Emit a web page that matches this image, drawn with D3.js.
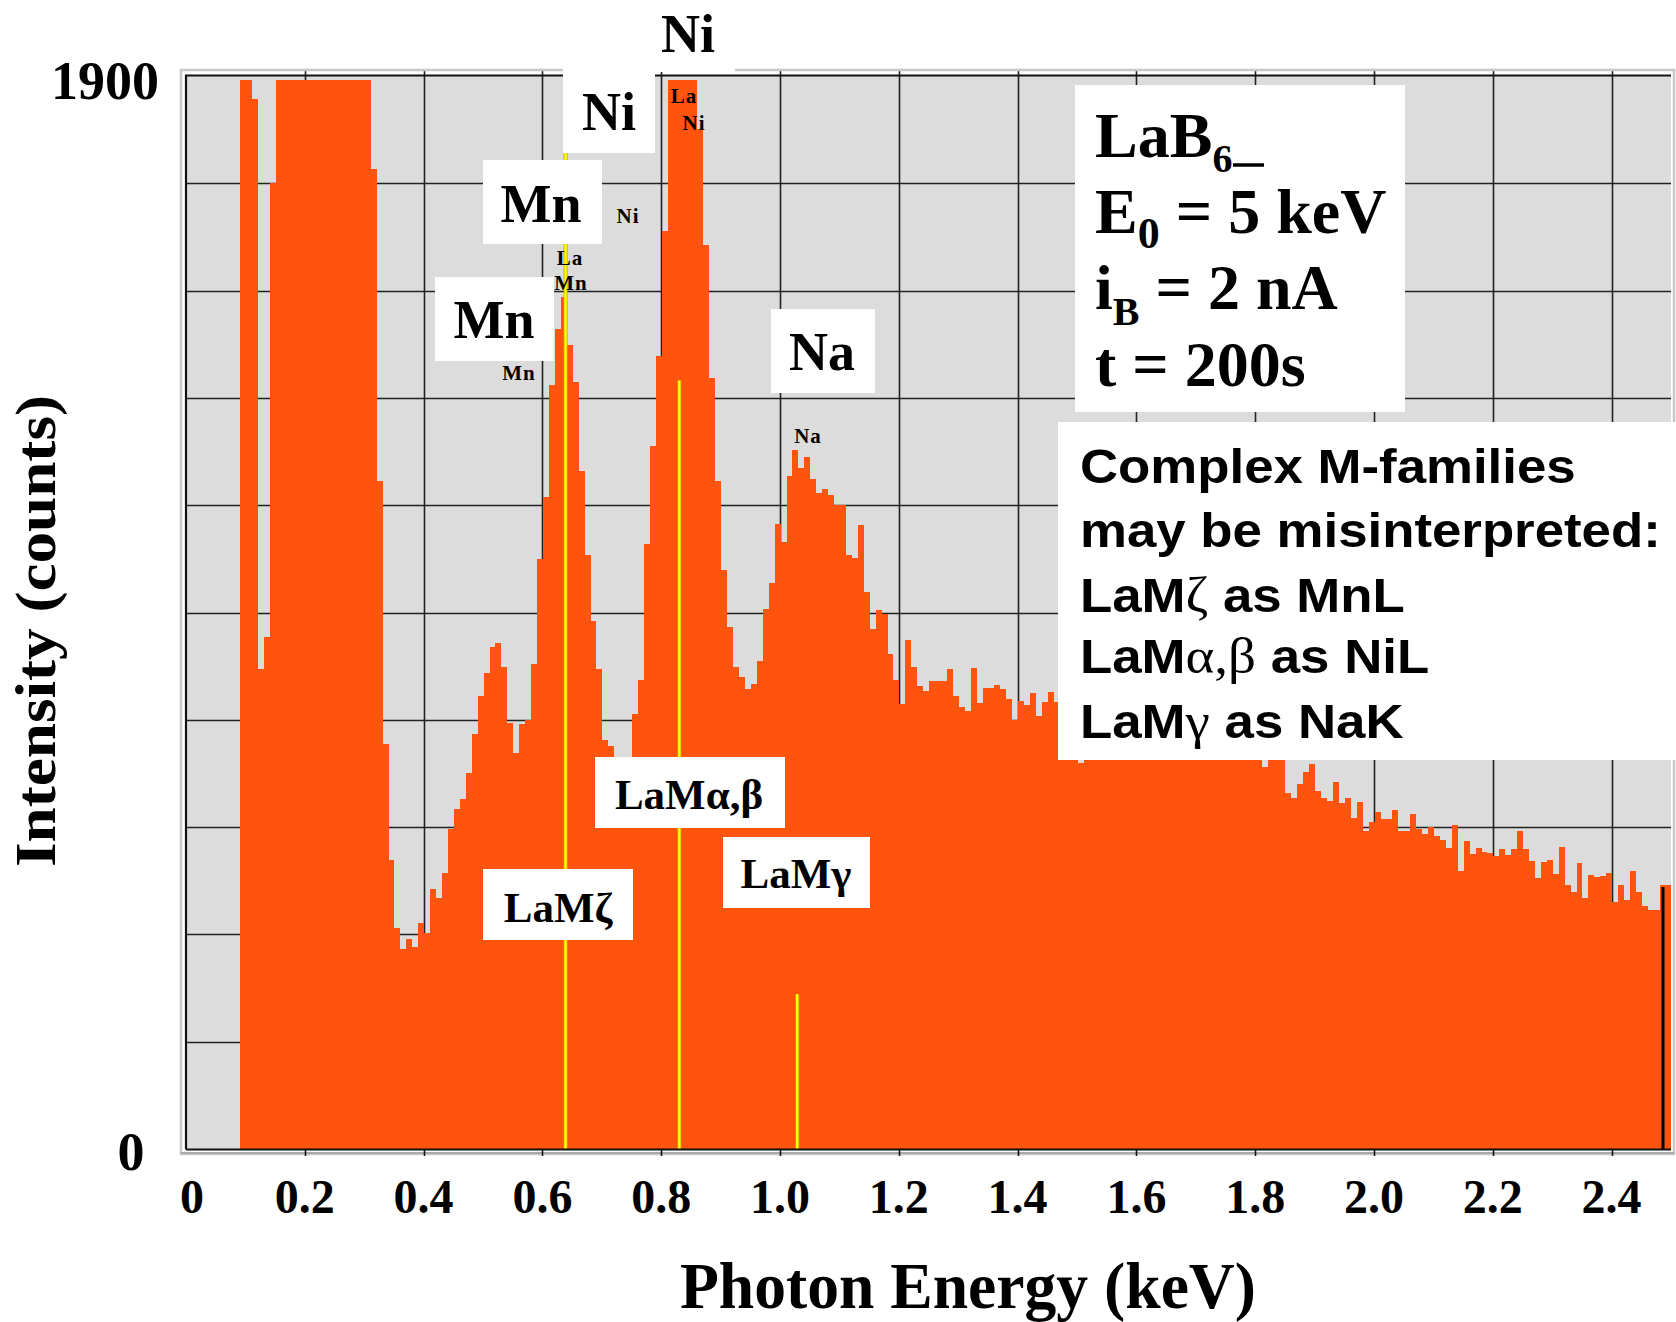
<!DOCTYPE html>
<html>
<head>
  <meta charset="utf-8" />
  <title>LaB6 spectrum</title>
  <script type="text/javascript" src="https://cdn.jsdelivr.net/npm/d3@7"></script>
  <style>
    body{
      margin: 0;
      background: white;
    }
  </style>
</head>
<body>
  <script type="text/javascript">
    // - - - - - CONSTANTS - - - - - //
    var w = 1676;
    var h = 1322;
    var serif = "'Liberation Serif', 'Times New Roman', serif";
    var sans = "'Liberation Sans', Arial, sans-serif";

    // - - - - - DATA - - - - - //
    // histogram: 10 eV channels, first channel lower edge in keV
    var binStart = 0.091;
    var binWidth = 0.01;
    // counts per channel (1893 = clipped at top of display)
    var counts = [
      1893, 1893, 1860, 850, 907, 1710,
      1893, 1893, 1893, 1893, 1893, 1893, 1893, 1893, 1893, 1893, 1893, 1893, 1893, 1893, 1893, 1893,
      1736, 1182, 718, 512, 392, 354, 371, 358, 401,
      382, 461, 444, 489, 566, 602, 619, 665, 734, 803,
      843, 889, 896, 853, 755, 702, 753, 759, 859, 1045,
      1154, 1352, 1452, 1509, 1424, 1358, 1201, 1051, 935, 850,
      724, 713, 670, 655, 675, 771, 830, 1071, 1244, 1404,
      1625, 1893, 1893, 1893, 1893, 1893, 1806, 1600, 1365, 1183,
      1026, 924, 853, 836, 814, 823, 865, 957, 1002, 1107,
      1074, 1191, 1237, 1206, 1225, 1186, 1162, 1169, 1158, 1141,
      1141, 1051, 1046, 1105, 987, 921, 955, 947, 876, 830,
      788, 901, 853, 820, 811, 828, 828, 828, 850, 803,
      782, 776, 852, 789, 816, 816, 822, 814, 797, 759,
      794, 786, 807, 767, 791, 809, 791, 785, 770, 798,
      683, 765, 788, 752, 771, 744, 762, 776, 741, 757,
      732, 766, 745, 722, 751, 736, 716, 745, 727, 706,
      734, 716, 701, 726, 711, 696, 719, 702, 707, 692,
      700, 677, 700, 705, 695, 631, 621, 646, 668, 682,
      634, 621, 617, 649, 613, 622, 586, 614, 563, 579,
      597, 585, 584, 600, 563, 563, 594, 567, 558, 570,
      555, 548, 533, 573, 492, 545, 523, 533, 526, 525,
      519, 531, 521, 531, 563, 531, 510, 479, 509, 512,
      487, 534, 468, 455, 506, 445, 485, 482, 484, 489,
      437, 468, 441, 492, 455, 431, 424, 424, 468, 468
    ];
    // La M line markers (keV) and marker heights (counts)
    var markerNames = ["LaMζ", "LaMα,β", "LaMγ"];
    var markerEnergy = [0.639, 0.8305, 1.029];
    var markerHeight = [1900, 1361, 274];
    // cursor line
    var cursorEnergy = 2.4865;
    var cursorHeight = 464;
    // axes
    var xTicks = [0, 0.2, 0.4, 0.6, 0.8, 1.0, 1.2, 1.4, 1.6, 1.8, 2.0, 2.2, 2.4];
    var xTickLabels = ["0", "0.2", "0.4", "0.6", "0.8", "1.0", "1.2", "1.4", "1.6", "1.8", "2.0", "2.2", "2.4"];
    var yGrid = [190, 380, 570, 760, 950, 1140, 1330, 1520, 1710];

    // - - - - - CANVAS - - - - - //
    var svg = d3.select("body")
      .append("svg")
      .attr("width", w)
      .attr("height", h);

    // - - - - - SCALES - - - - - //
    var x = d3.scaleLinear().domain([0, 2.5]).range([186, 1671]);
    var y = d3.scaleLinear().domain([0, 1900]).range([1149, 76]);

    // - - - - - PLOT FRAME / GRID - - - - - //
    svg.append("rect")
      .attr("x", x(0)).attr("y", y(1900) - 1)
      .attr("width", x(2.5) - x(0)).attr("height", y(0) - y(1900) + 1)
      .attr("fill", "#dcdcdc");

    var grid = svg.append("g").attr("stroke", "#222").attr("stroke-width", 1.6);
    grid.selectAll("line.h")
      .data(yGrid).enter().append("line")
      .attr("x1", x(0)).attr("x2", x(2.5))
      .attr("y1", function(d){ return Math.round(y(d)) + 0.5; })
      .attr("y2", function(d){ return Math.round(y(d)) + 0.5; });
    grid.selectAll("line.v")
      .data(xTicks.slice(1)).enter().append("line")
      .attr("y1", y(1900) - 5).attr("y2", y(0))
      .attr("x1", function(d){ return Math.round(x(d)) + 0.5; })
      .attr("x2", function(d){ return Math.round(x(d)) + 0.5; });

    // - - - - - SPECTRUM BARS - - - - - //
    svg.append("g")
      .attr("shape-rendering", "crispEdges")
      .selectAll("rect")
      .data(counts).enter().append("rect")
      .attr("x", function(d, i){ return Math.round(x(binStart + i * binWidth)); })
      .attr("width", function(d, i){
        var e1 = Math.min(2.5, binStart + (i + 1) * binWidth);
        return Math.round(x(e1)) - Math.round(x(binStart + i * binWidth));
      })
      .attr("y", function(d){ return Math.round(y(d)); })
      .attr("height", function(d){ return y(0) - Math.round(y(d)); })
      .attr("fill", "#ff540d");

    // - - - - - MARKER LINES - - - - - //
    var mk = svg.append("g");
    markerEnergy.forEach(function(e, i){
      mk.append("line")
        .attr("x1", x(e)).attr("x2", x(e))
        .attr("y1", y(markerHeight[i])).attr("y2", y(0))
        .attr("stroke", "#c9a400").attr("stroke-width", 4);
      mk.append("line")
        .attr("x1", x(e)).attr("x2", x(e))
        .attr("y1", y(markerHeight[i])).attr("y2", y(0))
        .attr("stroke", "#ffff00").attr("stroke-width", 2.4);
    });
    mk.append("line")
      .attr("x1", x(cursorEnergy)).attr("x2", x(cursorEnergy))
      .attr("y1", y(cursorHeight)).attr("y2", y(0))
      .attr("stroke", "#000").attr("stroke-width", 3);

    // - - - - - FRAME - - - - - //
    var fr = svg.append("g").attr("fill", "none");
    fr.append("path")
      .attr("d", "M181,1154 V70 H1674 V1154 Z")
      .attr("stroke", "#c8c8c8").attr("stroke-width", 2.5);
    fr.append("path")
      .attr("d", "M186,1149.5 V75.5 H1671 M186,1149.5 H1671")
      .attr("stroke", "#111").attr("stroke-width", 2.2);
    fr.append("line")
      .attr("x1", 181).attr("x2", 1674).attr("y1", 1153).attr("y2", 1153)
      .attr("stroke", "#aaa").attr("stroke-width", 2);
    fr.selectAll("line.tick")
      .data(xTicks.slice(1)).enter().append("line")
      .attr("x1", function(d){ return Math.round(x(d)) + 0.5; })
      .attr("x2", function(d){ return Math.round(x(d)) + 0.5; })
      .attr("y1", y(0)).attr("y2", y(0) + 7)
      .attr("stroke", "#111").attr("stroke-width", 1.6);

    // - - - - - AXIS LABELS - - - - - //
    svg.selectAll("text.xt")
      .data(xTicks).enter().append("text")
      .attr("x", function(d, i){ return x(d) + (i == 0 ? 6 : 0); })
      .attr("y", 1213)
      .attr("text-anchor", "middle")
      .attr("font-family", serif).attr("font-weight", "bold")
      .attr("font-size", "48px")
      .text(function(d, i){ return xTickLabels[i]; });

    svg.append("text")
      .attr("x", 159).attr("y", 99)
      .attr("text-anchor", "end")
      .attr("font-family", serif).attr("font-weight", "bold")
      .attr("font-size", "54px")
      .text("1900");
    svg.append("text")
      .attr("x", 131).attr("y", 1170)
      .attr("text-anchor", "middle")
      .attr("font-family", serif).attr("font-weight", "bold")
      .attr("font-size", "54px")
      .text("0");

    svg.append("text")
      .attr("x", 968).attr("y", 1308)
      .attr("text-anchor", "middle")
      .attr("font-family", serif).attr("font-weight", "bold")
      .attr("font-size", "66px")
      .attr("textLength", 576).attr("lengthAdjust", "spacingAndGlyphs")
      .text("Photon Energy (keV)");

    svg.append("text")
      .attr("transform", "translate(55,631) rotate(-90)")
      .attr("text-anchor", "middle")
      .attr("font-family", serif).attr("font-weight", "bold")
      .attr("font-size", "56px")
      .attr("textLength", 472).attr("lengthAdjust", "spacingAndGlyphs")
      .text("Intensity (counts)");

    // - - - - - SMALL PEAK LABELS (spectrum software) - - - - - //
    var small = [
      ["Mn", 519, 380], ["La", 570, 265], ["Mn", 571, 290], ["Ni", 628, 223],
      ["La", 684, 103], ["Ni", 694, 130], ["Na", 808, 443]
    ];
    svg.selectAll("text.sm")
      .data(small).enter().append("text")
      .attr("x", function(d){ return d[1]; })
      .attr("y", function(d){ return d[2]; })
      .attr("text-anchor", "middle")
      .attr("font-family", serif).attr("font-weight", "bold")
      .attr("font-size", "21px")
      .attr("letter-spacing", "1px")
      .text(function(d){ return d[0]; });

    // - - - - - WHITE LABEL BOXES - - - - - //
    var boxLabel = function(x0, y0, x1, y1, txt, tx, ty, size){
      svg.append("rect")
        .attr("x", x0).attr("y", y0)
        .attr("width", x1 - x0).attr("height", y1 - y0)
        .attr("fill", "white");
      if (txt) {
        svg.append("text")
          .attr("x", tx).attr("y", ty)
          .attr("text-anchor", "middle")
          .attr("font-family", serif).attr("font-weight", "bold")
          .attr("font-size", size + "px")
          .text(txt);
      }
    };
    boxLabel(655, 0, 735, 72, "Ni", 688, 52, 54);
    boxLabel(563, 62, 655, 153, "Ni", 609, 130, 54);
    boxLabel(483, 160, 602, 244, "Mn", 541, 222, 54);
    boxLabel(435, 277, 554, 361, "Mn", 494, 338, 54);
    boxLabel(771, 309, 875, 393, "Na", 822, 370, 54);
    boxLabel(483, 869, 633, 940, markerNames[0], 558, 922, 43);
    boxLabel(595, 757, 785, 828, markerNames[1], 689, 809, 43);
    boxLabel(723, 837, 870, 908, markerNames[2], 796, 888, 43);

    // - - - - - CONDITIONS BOX - - - - - //
    boxLabel(1075, 85, 1405, 412);
    var cond = svg.append("g")
      .attr("font-family", serif).attr("font-weight", "bold")
      .attr("font-size", "64px");
    var t1 = cond.append("text").attr("x", 1095).attr("y", 157);
    t1.append("tspan").text("LaB");
    t1.append("tspan").attr("font-size", "40px").attr("dy", 15).text("6");
    cond.append("line")
      .attr("x1", 1233).attr("x2", 1264).attr("y1", 165).attr("y2", 165)
      .attr("stroke", "#000").attr("stroke-width", 3.5);
    var t2 = cond.append("text").attr("x", 1095).attr("y", 233);
    t2.append("tspan").text("E");
    t2.append("tspan").attr("font-size", "44px").attr("dy", 15).text("0");
    t2.append("tspan").attr("dy", -15).text(" = 5 keV");
    var t3 = cond.append("text").attr("x", 1095).attr("y", 309);
    t3.append("tspan").text("i");
    t3.append("tspan").attr("font-size", "40px").attr("dy", 16).text("B");
    t3.append("tspan").attr("dy", -16).text(" = 2 nA");
    cond.append("text").attr("x", 1095).attr("y", 386).text("t = 200s");

    // - - - - - NOTE BOX - - - - - //
    boxLabel(1058, 422, 1676, 760);
    var note = svg.append("g")
      .attr("transform", "translate(1080,0) scale(1.1,1)")
      .attr("font-family", sans).attr("font-weight", "bold")
      .attr("font-size", "48px");
    var noteLines = [
      [["Complex M-families", 0]],
      [["may be misinterpreted:", 0]],
      [["LaM", 0], ["ζ", 1], [" as MnL", 0]],
      [["LaM", 0], ["α,β", 1], [" as NiL", 0]],
      [["LaM", 0], ["γ", 1], [" as NaK", 0]]
    ];
    var noteY = [483, 547, 612, 673, 738];
    noteLines.forEach(function(parts, i){
      var t = note.append("text").attr("x", 0).attr("y", noteY[i]);
      parts.forEach(function(p){
        var s = t.append("tspan").text(p[0]);
        if (p[1]) {
          s.attr("font-family", serif).attr("font-weight", "normal").attr("font-size", "50px");
        }
      });
    });
  </script>
</body>
</html>
